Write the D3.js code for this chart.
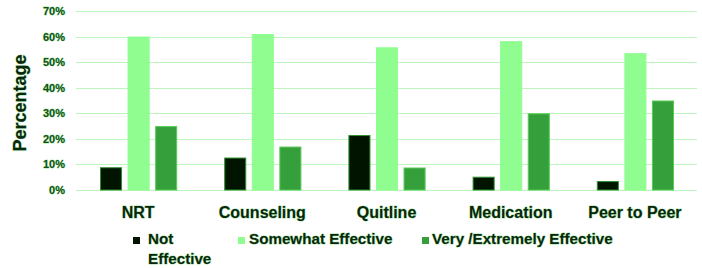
<!DOCTYPE html>
<html><head><meta charset="utf-8">
<script src="https://cdn.jsdelivr.net/npm/d3@7"></script>
<style>
html,body{margin:0;padding:0;background:#fff;}
svg{display:block;}
text{font-family:"Liberation Sans",Arial,sans-serif;font-weight:bold;paint-order:stroke;stroke-linejoin:round;}
</style></head>
<body><svg id="c" width="702" height="268"></svg>
<script>
const categories = ["NRT","Counseling","Quitline","Medication","Peer to Peer"];
const seriesNames = ["Not Effective","Somewhat Effective","Very /Extremely Effective"];
const notEffective = [8.7, 12.5, 21.3, 5.0, 3.3];
const somewhatEffective = [59.8, 60.8, 55.6, 58.0, 53.3];
const veryEffective = [24.8, 16.8, 8.6, 29.8, 34.8];
const yTicks = [0,10,20,30,40,50,60,70];
const colors = ["#001400","#8ffd8f","#35a03b"];
const strokes = ["#2f8f2f","#8ffd8f","#55cc55"];

const series = [notEffective, somewhatEffective, veryEffective];
const svg = d3.select("#c");
const textFill = "#0a260c", halo = "rgba(70,200,70,0.55)";
const x0 = d3.scaleBand().domain(categories).range([76,697]).paddingInner(0).paddingOuter(0);
const x1 = d3.scaleBand().domain(d3.range(3)).range([24, x0.bandwidth()-23]).paddingInner(0.2).paddingOuter(0);
const y = d3.scaleLinear().domain([0,70]).range([190,11]);

// gridlines
svg.append("g").selectAll("line").data(yTicks).join("line")
  .attr("x1",76).attr("x2",697)
  .attr("y1",d=>Math.round(y(d))+0.5).attr("y2",d=>Math.round(y(d))+0.5)
  .attr("stroke","#bdf7bd").attr("stroke-width",1.2);

// y tick labels
const yAxis = d3.axisLeft(y).tickValues(yTicks).tickFormat(d=>d+"%").tickSize(0).tickPadding(0);
const ya = svg.append("g").attr("transform","translate(65,0)").call(yAxis);
ya.select(".domain").remove();
ya.selectAll("text").attr("fill","#0e5214").attr("font-size",11)
  .attr("font-family","Liberation Sans, Arial, sans-serif")
  .attr("stroke",halo).attr("stroke-width",0.8);

// bars
const g = svg.append("g");
categories.forEach((c,i)=>{
  series.forEach((s,j)=>{
    g.append("rect")
      .attr("x", x0(c)+x1(j)+0.5)
      .attr("y", y(s[i]))
      .attr("width", x1.bandwidth()-1)
      .attr("height", y(0)-y(s[i]))
      .attr("fill", colors[j])
      .attr("stroke", strokes[j]).attr("stroke-width",1);
  });
});

// x axis labels
const xAxis = d3.axisBottom(x0).tickSize(0).tickPadding(0);
const xa = svg.append("g").attr("transform","translate(0,218)").call(xAxis);
xa.select(".domain").remove();
xa.selectAll("text").attr("fill",textFill).attr("font-size",16).attr("dy",0)
  .attr("font-family","Liberation Sans, Arial, sans-serif")
  .attr("stroke",halo).attr("stroke-width",1);

// y title
svg.append("text").attr("transform","translate(26,103) rotate(-90)")
  .attr("text-anchor","middle").attr("fill",textFill).attr("font-size",18)
  .attr("stroke",halo).attr("stroke-width",1)
  .text("Percentage");

// legend
const leg = svg.append("g");
const legItems = [
  {sx:133, tx:148, lines:["Not","Effective"]},
  {sx:238, tx:249, lines:["Somewhat Effective"]},
  {sx:422, tx:432, lines:["Very /Extremely Effective"]}
];
legItems.forEach((it,j)=>{
  leg.append("rect").attr("x",it.sx).attr("y",237).attr("width",7).attr("height",7).attr("fill",colors[j]);
  it.lines.forEach((ln,k)=>{
    leg.append("text").attr("x",it.tx).attr("y",244+k*19.5).attr("fill",textFill).attr("font-size",15.2)
      .attr("stroke",halo).attr("stroke-width",1).text(ln);
  });
});
</script></body></html>
